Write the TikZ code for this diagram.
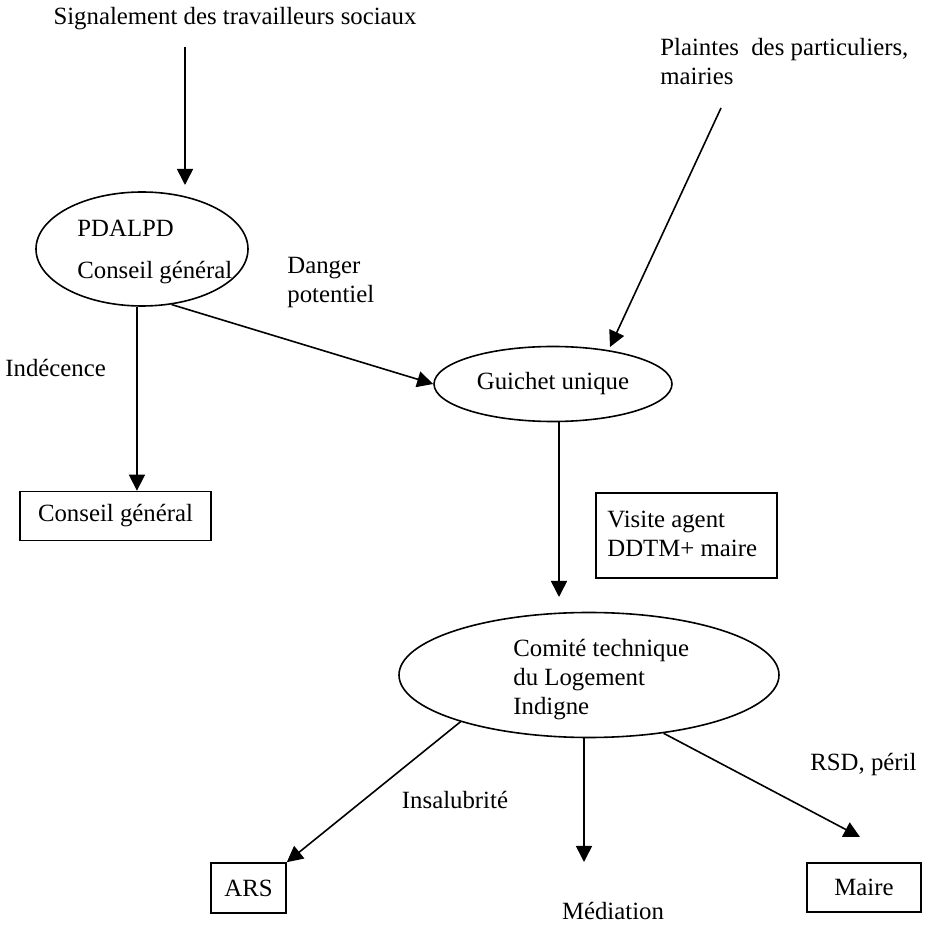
\documentclass[tikz,border=0pt]{standalone}
\usepackage{fontspec}
\setmainfont{Liberation Serif}
\usetikzlibrary{shapes.geometric,arrows.meta}
\begin{document}
\begin{tikzpicture}[x=0.5pt,y=-0.5pt,
  every node/.style={font=\fontsize{12.4}{14.5}\selectfont},
  oval/.style={draw,ellipse,inner sep=0pt,line width=0.8pt},
  rbox/.style={draw,rectangle,inner sep=0pt,line width=0.8pt},
  lbl/.style={inner sep=0pt,align=left},
  arr/.style={draw,line width=0.8pt,-{Triangle[length=8pt,width=8pt]}}]
\useasboundingbox (0,0) rectangle (939,925);

% sources
\node[lbl] (sig) at (235,19) {Signalement des travailleurs sociaux};
\node[lbl,anchor=west] (pl) at (660,62) {Plaintes\ \ des particuliers,\\mairies};

% PDALPD / Conseil général
\node[oval,minimum width=106pt,minimum height=57pt] (pd) at (142,249) {};
\node[lbl,anchor=west] (pdt) at (77,252) {PDALPD\\[6.5pt]Conseil général};
\node[lbl,anchor=west] (dp) at (287,283) {Danger\\potentiel};
\node[lbl,anchor=west] (ind) at (5,368) {Indécence};
\node[rbox,minimum width=95.5pt,minimum height=24.5pt] (cg) at (115.5,516) {Conseil général};

% Guichet unique and visit
\node[oval,minimum width=119pt,minimum height=37.5pt] (gu) at (553,384) {Guichet unique};
\node[rbox,minimum width=90.5pt,minimum height=42.5pt] (vis) at (686.5,535.5) {};
\node[lbl,anchor=west] (vist) at (607,534) {Visite agent\\DDTM+ maire};

% technical committee
\node[oval,minimum width=190pt,minimum height=62.5pt] (ct) at (589,675) {};
\node[lbl,anchor=west] (ctt) at (513,680) {Comité technique\\du Logement\\Indigne};

% outcomes
\node[lbl] (ins) at (455,800) {Insalubrité};
\node[rbox,minimum width=37.5pt,minimum height=25pt] (ars) at (248.5,888) {ARS};
\node[lbl] (med) at (613,911) {Médiation};
\node[lbl,anchor=west] (rsd) at (810,765) {RSD, péril};
\node[rbox,minimum width=57pt,minimum height=24.5pt] (mai) at (864,887.5) {Maire};

% free arrow ends
\coordinate (s1) at (185,47);
\coordinate (s2) at (185,185);
\coordinate (p1) at (721,108);
\coordinate (p2) at (610,347);
\coordinate (gtip) at (559,597);
\coordinate (mtip) at (584,862);
\coordinate (rtip) at (860,837);

% connectors
\draw[arr] (s1) -- (s2);
\draw[arr] (p1) -- (p2);
\draw[arr] (pd.298) -- (gu.west);
\draw[arr] (pd.265) -- (pd.265 |- cg.north);
\draw[arr] (gu.south -| gtip) -- (gtip);
\draw[arr] (ct.200) -- (ars.north east);
\draw[arr] (ct.south -| mtip) -- (mtip);
\draw[arr] (ct.-38) -- (rtip);
\end{tikzpicture}
\end{document}
